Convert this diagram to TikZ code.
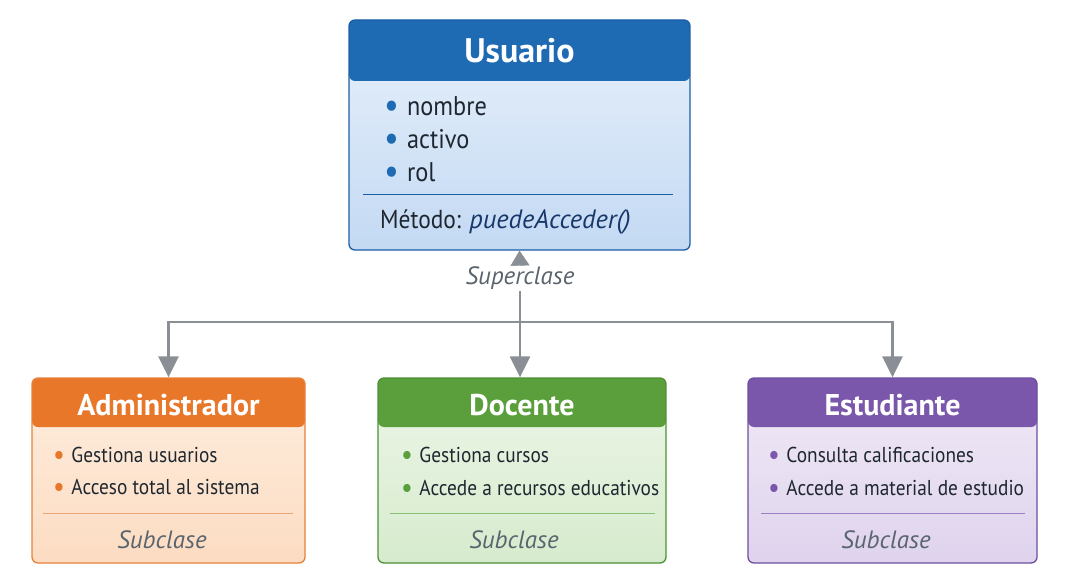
\documentclass[tikz,border=0pt]{standalone}
\usepackage{fontspec}
\setmainfont{PT Sans}[UprightFeatures={FakeStretch=0.9}]
\usetikzlibrary{arrows.meta}
\definecolor{usrhead}{HTML}{1E6BB4}
\definecolor{usrline}{HTML}{1B5EA6}
\definecolor{usrtop}{HTML}{E8F1FB}
\definecolor{usrbot}{HTML}{C3D9F3}
\definecolor{usrmeth}{HTML}{17386A}
\definecolor{admhead}{HTML}{E8772A}
\definecolor{admline}{HTML}{E8813A}
\definecolor{admtop}{HTML}{FEEEDF}
\definecolor{admbot}{HTML}{FCDCC2}
\definecolor{admsep}{HTML}{E9A577}
\definecolor{dochead}{HTML}{5A9F3C}
\definecolor{docline}{HTML}{4E9036}
\definecolor{doctop}{HTML}{EDF6E8}
\definecolor{docbot}{HTML}{D6EBCD}
\definecolor{docsep}{HTML}{8CC076}
\definecolor{esthead}{HTML}{7A57AB}
\definecolor{estline}{HTML}{6D4E9E}
\definecolor{esttop}{HTML}{F1EBF7}
\definecolor{estbot}{HTML}{DFD3ED}
\definecolor{estsep}{HTML}{9A82C0}
\definecolor{ink}{HTML}{1E2730}
\definecolor{subtext}{HTML}{5A646E}
\definecolor{linkgray}{HTML}{8A8F96}
\newcommand{\bul}[1]{{\color{#1}\raisebox{-0.1em}{\scalebox{1.35}{\textbullet}}}\hspace{0.3em}}
\tikzset{
  classbox/.style={rectangle, rounded corners=6pt, line width=1.3pt},
  head/.style 2 args={path picture={\fill[#1] (path picture bounding box.north west) rectangle ([yshift=-#2]path picture bounding box.north east);}},
}
\tikzstyle{title} = [text=white, font=\bfseries\fontsize{30}{34}\selectfont]
\tikzstyle{item} = [anchor=west, inner sep=0pt, text=ink, font=\fontsize{21.5}{25}\selectfont]
\tikzstyle{note} = [text=subtext, font=\itshape\fontsize{25}{28}\selectfont]
\tikzstyle{arrow} = [linkgray, line width=2.6pt, -{Triangle[width=20pt,length=21pt]}]
\tikzstyle{link} = [linkgray, line width=2.6pt]

\begin{document}
\begin{tikzpicture}[x=1pt,y=-1pt]
		\useasboundingbox (0,0) rectangle (1073,580);
		% superclass
		\node (usr) [classbox, draw=usrline, top color=usrtop, bottom color=usrbot, head={usrhead}{61pt}, minimum width=341pt, minimum height=230pt] at (519.5,135) {};
		\node (usrname) [title, font=\bfseries\fontsize{34}{40}\selectfont] at (519.5,51) {Usuario};
		\node (usr1) [item, font=\fontsize{27}{30}\selectfont] at (384,107) {\bul{usrhead}nombre};
		\node (usr2) [item, font=\fontsize{27}{30}\selectfont] at (384,140) {\bul{usrhead}activo};
		\node (usr3) [item, font=\fontsize{27}{30}\selectfont] at (384,173) {\bul{usrhead}rol};
		\draw [usrline, line width=1pt] (363,195) -- (673,195);
		\node (usrm) [item, font=\fontsize{26}{28}\selectfont] at (380,222) {Método: {\color{usrmeth}\itshape\fontsize{26.5}{28}\selectfont puedeAcceder()}};
		
		% subclasses
		\node (adm) [classbox, draw=admline, top color=admtop, bottom color=admbot, head={admhead}{49pt}, minimum width=273pt, minimum height=185pt] at (168.5,470.5) {};
		\node (admname) [title] at (168.5,405) {Administrador};
		\node (adm1) [item] at (53,456) {\bul{admhead}Gestiona usuarios};
		\node (adm2) [item] at (53,488) {\bul{admhead}Acceso total al sistema};
		\draw [admsep, line width=1pt] (43,513) -- (293,513);
		\node (admsub) [note] at (162,540) {Subclase};
		
		\node (doc) [classbox, draw=docline, top color=doctop, bottom color=docbot, head={dochead}{49pt}, minimum width=288pt, minimum height=185pt] at (522,470.5) {};
		\node (docname) [title] at (522,405) {Docente};
		\node (doc1) [item] at (401,456) {\bul{dochead}Gestiona cursos};
		\node (doc2) [item] at (401,489) {\bul{dochead}Accede a recursos educativos};
		\draw [docsep, line width=1pt] (390,513) -- (655,513);
		\node (docsub) [note] at (514,540) {Subclase};
		
		\node (est) [classbox, draw=estline, top color=esttop, bottom color=estbot, head={esthead}{49pt}, minimum width=289pt, minimum height=185pt] at (892.5,470.5) {};
		\node (estname) [title] at (892.5,405) {Estudiante};
		\node (est1) [item] at (768,456) {\bul{esthead}Consulta calificaciones};
		\node (est2) [item] at (768,489) {\bul{esthead}Accede a material de estudio};
		\draw [estsep, line width=1pt] (761,513) -- (1025,513);
		\node (estsub) [note] at (886,540) {Subclase};
		
		% connectors
		\node (sup) [note, inner sep=1pt] at (520,278) {Superclase};
		\coordinate (hub) at (520,322);
		\draw [linkgray, -{Triangle[width=19pt,length=15pt]}] (sup.north) -- (usr.south);
		\draw [link] (sup.south) -- (hub);
		\draw [arrow] (hub) -| (adm.north);
		\draw [arrow] (hub) -- (hub |- doc.north);
		\draw [arrow] (hub) -| (est.north);
		\end{tikzpicture}
\end{document}
